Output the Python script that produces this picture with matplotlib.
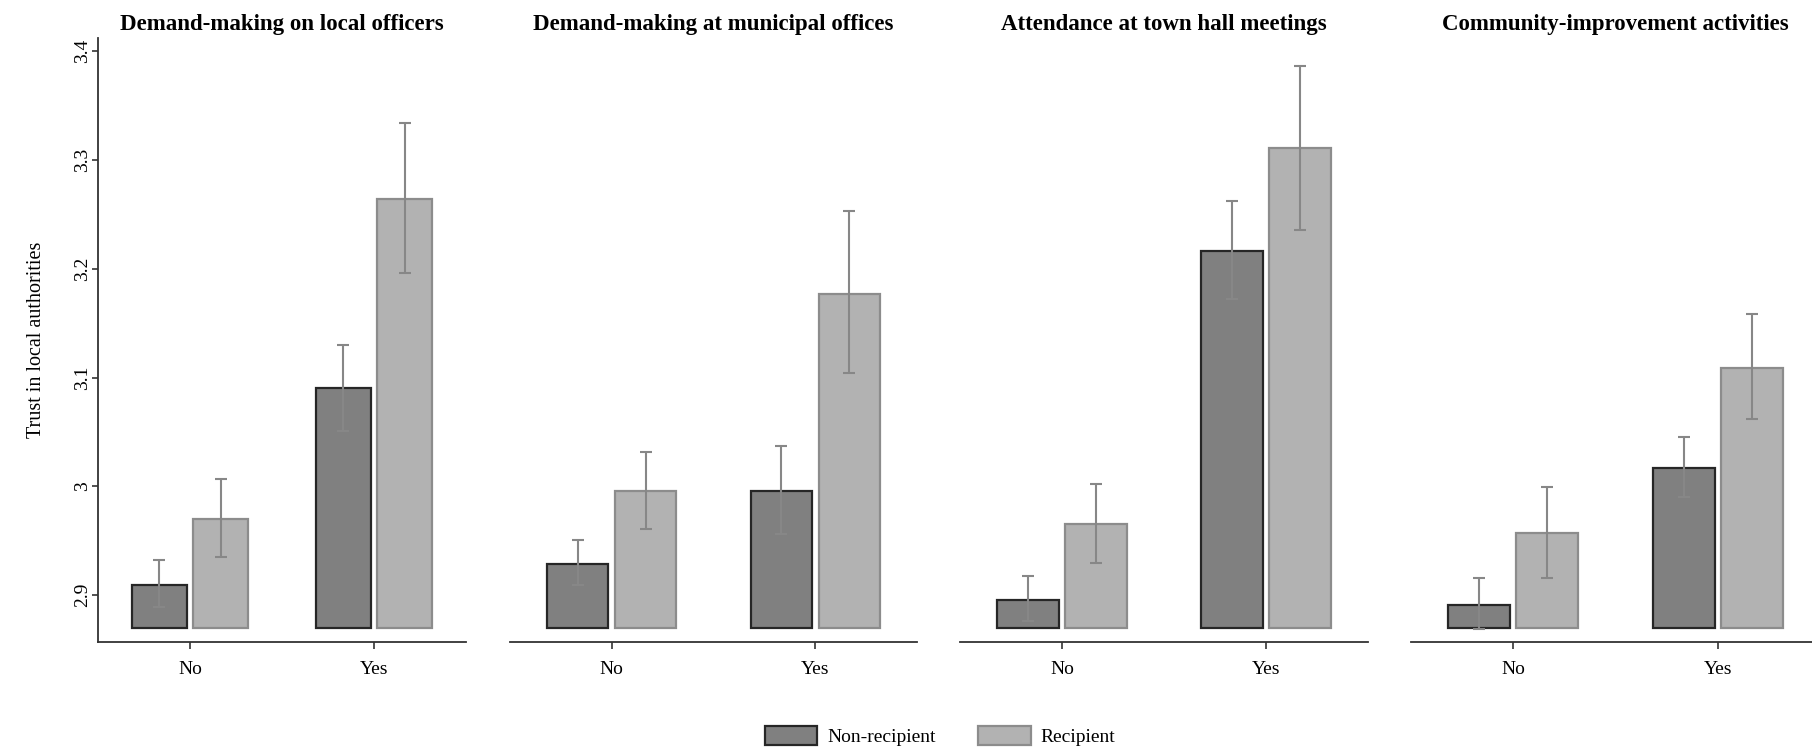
"""Trust in local authorities by participation type: four bar panels with CIs."""
import matplotlib
matplotlib.use("Agg")
import matplotlib.pyplot as plt
from matplotlib.patches import Patch

plt.rcParams["font.family"] = ["Liberation Serif", "DejaVu Serif"]

panel_titles = [
    "Demand-making on local officers",
    "Demand-making at municipal offices",
    "Attendance at town hall meetings",
    "Community-improvement activities",
]
categories = ["No", "Yes"]

# means per panel: [No, Yes]
nonrec_mean = [[2.909, 3.090], [2.929, 2.996], [2.896, 3.216], [2.891, 3.017]]
rec_mean = [[2.970, 3.264], [2.996, 3.177], [2.965, 3.311], [2.957, 3.109]]
# confidence intervals: [No, Yes] lower / upper
nonrec_lo = [[2.889, 3.051], [2.909, 2.956], [2.876, 3.172], [2.869, 2.990]]
nonrec_hi = [[2.932, 3.130], [2.951, 3.037], [2.918, 3.262], [2.916, 3.045]]
rec_lo = [[2.935, 3.196], [2.961, 3.104], [2.930, 3.236], [2.916, 3.062]]
rec_hi = [[3.007, 3.334], [3.032, 3.253], [3.002, 3.386], [2.999, 3.158]]

yticks = [2.9, 3.0, 3.1, 3.2, 3.3, 3.4]
ytick_labels = ["2.9", "3", "3.1", "3.2", "3.3", "3.4"]

BASE = 2.87
W_PX, H_PX = 1812, 751
# panel left edge / width in pixels
panel_px = [(98, 368), (510, 407), (960, 408), (1410.5, 410)]
ax_bottom = 1 - 642 / H_PX
ax_height = (642 - 38) / H_PX

fig = plt.figure(figsize=(W_PX / 100, H_PX / 100), dpi=100)

nr_fill, nr_edge = "#808080", "#262626"
r_fill, r_edge = "#b2b2b2", "#8c8c8c"
err_color = "#878787"
width, offset = 0.30, 0.167

for i, (left, w) in enumerate(panel_px):
    ax = fig.add_axes([left / W_PX, ax_bottom, w / W_PX, ax_height])
    x = [0, 1]
    xn = [xi - offset for xi in x]
    xr = [xi + offset for xi in x]
    ax.bar(xn, [v - BASE for v in nonrec_mean[i]], bottom=BASE, width=width,
           color=nr_fill, edgecolor=nr_edge, linewidth=1.6, zorder=2)
    ax.bar(xr, [v - BASE for v in rec_mean[i]], bottom=BASE, width=width,
           color=r_fill, edgecolor=r_edge, linewidth=1.6, zorder=2)
    ax.errorbar(xn, nonrec_mean[i],
                yerr=[[m - lo for m, lo in zip(nonrec_mean[i], nonrec_lo[i])],
                      [hi - m for m, hi in zip(nonrec_mean[i], nonrec_hi[i])]],
                fmt="none", ecolor=err_color, elinewidth=1.5, capsize=4, capthick=1.5, zorder=3)
    ax.errorbar(xr, rec_mean[i],
                yerr=[[m - lo for m, lo in zip(rec_mean[i], rec_lo[i])],
                      [hi - m for m, hi in zip(rec_mean[i], rec_hi[i])]],
                fmt="none", ecolor=err_color, elinewidth=1.5, capsize=4, capthick=1.5, zorder=3)

    ax.set_xlim(-0.5, 1.5)
    ax.set_ylim(2.857, 3.412)
    ax.set_xticks(x)
    ax.set_xticklabels(categories, fontsize=14)
    ax.tick_params(axis="x", length=5, width=1.2, color="#333333", pad=9)
    ax.spines["top"].set_visible(False)
    ax.spines["right"].set_visible(False)
    ax.spines["bottom"].set_color("#333333")
    ax.spines["bottom"].set_linewidth(1.3)
    ax.set_title(panel_titles[i], fontsize=16.5, fontweight="bold", pad=6)
    if i == 0:
        ax.spines["left"].set_color("#333333")
        ax.spines["left"].set_linewidth(1.3)
        ax.set_yticks(yticks)
        ax.set_yticklabels(ytick_labels, rotation=90, va="center", fontsize=14)
        ax.tick_params(axis="y", length=4, width=1.2, color="#333333", pad=1)
        ax.set_ylabel("Trust in local authorities", fontsize=14.5, labelpad=20)
    else:
        ax.spines["left"].set_visible(False)
        ax.set_yticks([])

handles = [
    Patch(facecolor=nr_fill, edgecolor=nr_edge, linewidth=1.6, label="Non-recipient"),
    Patch(facecolor=r_fill, edgecolor=r_edge, linewidth=1.6, label="Recipient"),
]
fig.legend(handles=handles, loc="center", bbox_to_anchor=(940 / W_PX, 1 - 736 / H_PX),
           ncol=2, frameon=False, fontsize=14, handlelength=2.7, handleheight=1.1,
           handletextpad=0.5, columnspacing=2.2, borderpad=0)

fig.savefig("out.png", dpi=100)
